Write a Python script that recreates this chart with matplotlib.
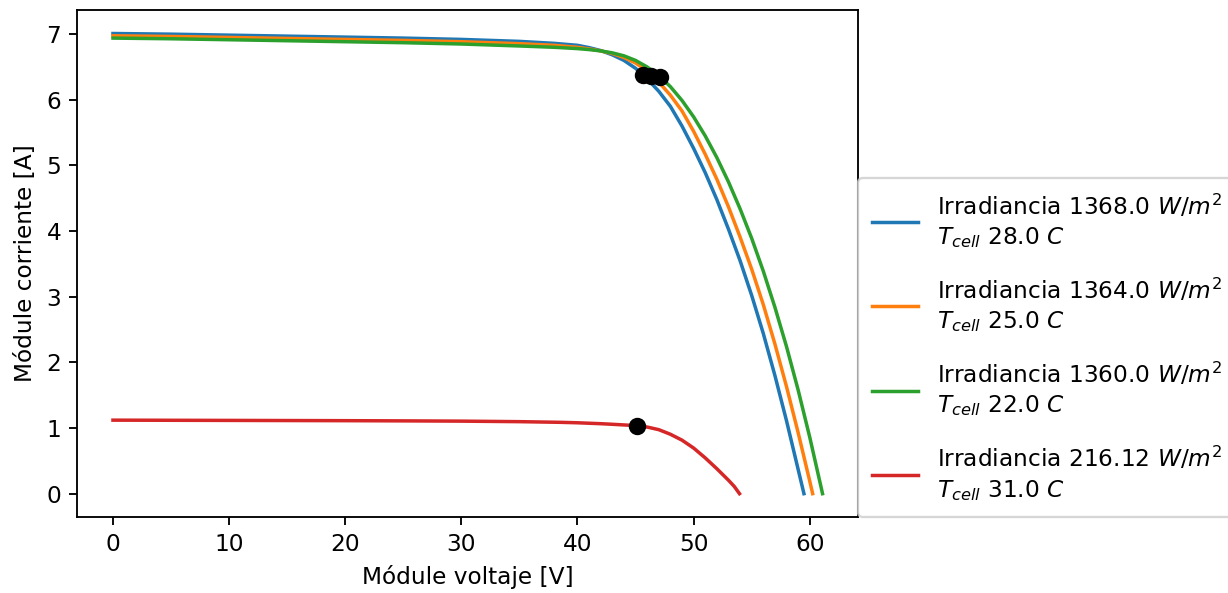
import matplotlib.pyplot as plt

# =========================================================
# DATA
# =========================================================

v_1368 = [0, 5, 10, 15, 20, 25, 30, 35, 38, 40, 41, 42, 43, 44, 45, 46, 47, 48,
          49, 50, 51, 52, 53, 54, 55, 56, 57, 58, 59, 59.5]
i_1368 = [7.01, 7.00, 6.985, 6.97, 6.955, 6.94, 6.92, 6.89, 6.86, 6.83, 6.795, 6.75,
          6.685, 6.60, 6.48, 6.32, 6.13, 5.90, 5.60, 5.26, 4.89, 4.48, 4.03, 3.55,
          3.02, 2.44, 1.80, 1.11, 0.37, 0.0]

v_1364 = [0, 5, 10, 15, 20, 25, 30, 35, 38, 40, 41, 42, 43, 44, 45, 46, 47, 48,
          49, 50, 51, 52, 53, 54, 55, 56, 57, 58, 59, 60, 60.25]
i_1364 = [6.975, 6.965, 6.95, 6.935, 6.92, 6.905, 6.885, 6.855, 6.83, 6.80, 6.775,
          6.745, 6.705, 6.645, 6.56, 6.44, 6.27, 6.07, 5.83, 5.52, 5.17, 4.79, 4.37,
          3.91, 3.42, 2.88, 2.28, 1.63, 0.93, 0.19, 0.0]

v_1360 = [0, 5, 10, 15, 20, 25, 30, 35, 38, 40, 41, 42, 43, 44, 45, 46, 47, 48,
          49, 50, 51, 52, 53, 54, 55, 56, 57, 58, 59, 60, 61, 61.1]
i_1360 = [6.94, 6.93, 6.915, 6.90, 6.885, 6.87, 6.85, 6.82, 6.80, 6.78, 6.765,
          6.745, 6.715, 6.67, 6.60, 6.50, 6.37, 6.20, 5.99, 5.74, 5.45, 5.12, 4.75,
          4.34, 3.89, 3.39, 2.84, 2.24, 1.58, 0.86, 0.08, 0.0]

v_216 = [0, 5, 10, 15, 20, 25, 30, 35, 38.5, 40, 42, 43, 44, 45, 46, 47, 48, 49,
         50, 51, 52, 53, 53.5, 53.95]
i_216 = [1.12, 1.118, 1.116, 1.114, 1.112, 1.109, 1.105, 1.097, 1.087, 1.08, 1.066,
         1.057, 1.047, 1.038, 1.015, 0.975, 0.905, 0.815, 0.695, 0.545, 0.38, 0.205,
         0.11, 0.0]

irradiance = ["1368.0", "1364.0", "1360.0", "216.12"]
t_cell = ["28.0", "25.0", "22.0", "31.0"]

# maximum power points
v_mpp = [45.6, 46.3, 47.1, 45.15]
i_mpp = [6.38, 6.37, 6.34, 1.035]


# =========================================================
# PLOT
# =========================================================

curves = [(v_1368, i_1368), (v_1364, i_1364), (v_1360, i_1360), (v_216, i_216)]

dpi = 167
fig = plt.figure(figsize=(1228 / dpi, 593 / dpi), dpi=dpi)
ax = fig.add_axes([0.0631, 0.1287, 0.6356, 0.8536])

for (v, i), g, t in zip(curves, irradiance, t_cell):
    label = "Irradiancia " + g + " $W/m^2$\n$T_{cell}$ " + t + " $C$"
    ax.plot(v, i, label=label)

for vm, im in zip(v_mpp, i_mpp):
    ax.plot(vm, im, "o", color="k", markersize=6.5)

ax.set_xlabel("Módule voltaje [V]")
ax.set_ylabel("Módule corriente [A]")
leg = ax.legend(loc="lower left", bbox_to_anchor=(1, 0), borderaxespad=0,
                labelspacing=1.15, borderpad=0.6)
for txt in leg.get_texts():
    txt.set_linespacing(1.29)

fig.savefig("out.png", dpi=dpi)
